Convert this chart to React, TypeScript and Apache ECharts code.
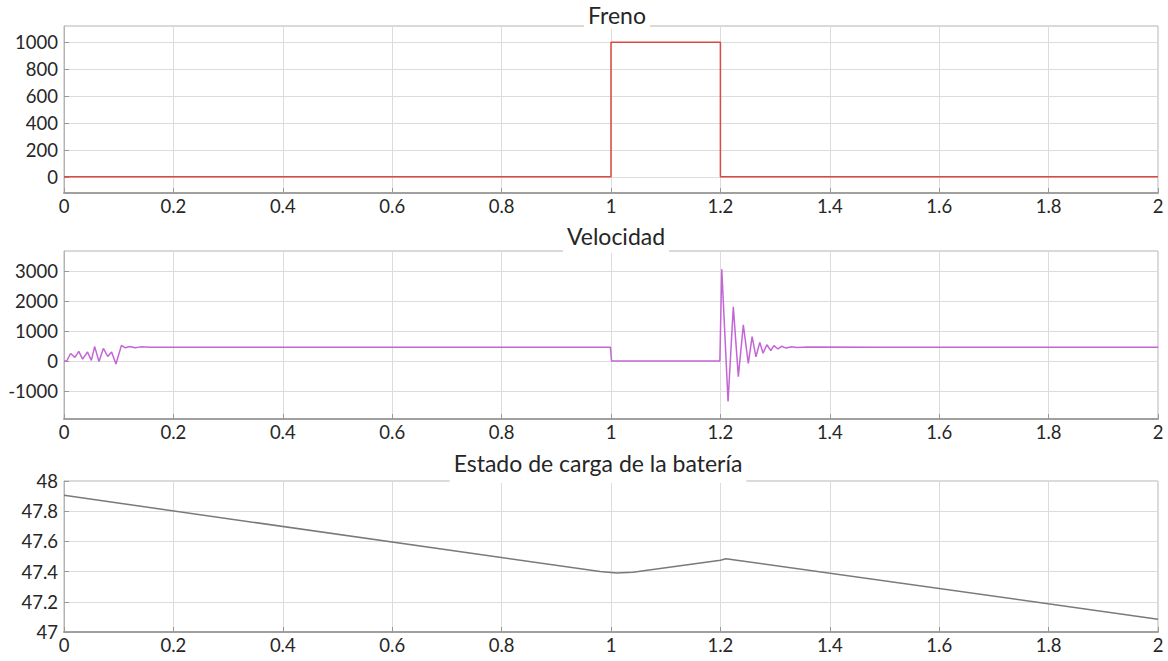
import React, { useEffect, useRef } from 'react';
import * as echarts from 'echarts';

// ---- data ----
const xTicks = [0, 0.2, 0.4, 0.6, 0.8, 1, 1.2, 1.4, 1.6, 1.8, 2];

const titles = ['Freno', 'Velocidad', 'Estado de carga de la batería'];

const frenoT = [0, 1.0, 1.0, 1.2, 1.2, 2];
const frenoV = [0, 0, 1000, 1000, 0, 0];
const frenoTicks = [0, 200, 400, 600, 800, 1000];

const velT = [
  0, 0.005, 0.012, 0.02, 0.027, 0.034, 0.043, 0.05, 0.056, 0.064, 0.072, 0.08, 0.087, 0.095,
  0.105, 0.112, 0.12, 0.13, 0.14, 0.16, 0.2, 0.5, 0.8, 0.999, 1.001, 1.1, 1.199,
  1.2025, 1.214, 1.2236, 1.2328, 1.2419, 1.251, 1.258, 1.265, 1.272, 1.278, 1.285,
  1.292, 1.298, 1.305, 1.312, 1.32, 1.33, 1.34, 1.36, 1.5, 2,
];
const velV = [
  0, 0, 250, 120, 320, 60, 300, 20, 480, -20, 420, 150, 300, -100,
  520, 440, 480, 440, 470, 460, 460, 460, 460, 460, 0, 0, 0,
  3050, -1350, 1800, -520, 1200, -80, 810, 140, 620, 260, 540,
  350, 510, 400, 490, 430, 475, 450, 462, 460, 460,
];
const velTicks = [-1000, 0, 1000, 2000, 3000];

const batT = [0, 0.98, 1.01, 1.04, 1.2, 1.21, 1.22, 2];
const batV = [47.905, 47.4, 47.39, 47.395, 47.475, 47.485, 47.48, 47.085];
const batTicks = [47, 47.2, 47.4, 47.6, 47.8, 48];

const FONT = 'Lato';
const TXT = '#262626';

function zip(a: number[], b: number[]) {
  return a.map((t, i) => [t, b[i]]);
}

export default function App() {
  const ref = useRef<HTMLDivElement>(null);
  useEffect(() => {
    document.body.style.margin = '0';
    const chart = echarts.init(ref.current!, null, { renderer: 'svg' });

    const grids = [
      { left: 64, right: 10, top: 26, height: 167 },
      { left: 64, right: 10, top: 251, height: 168 },
      { left: 64, right: 10, top: 481, height: 151 },
    ];
    const yRanges = [
      { min: -120, max: 1120, ticks: frenoTicks },
      { min: -1930, max: 3660, ticks: velTicks },
      { min: 47, max: 48, ticks: batTicks },
    ];
    const titlePos = [
      { x: 613, top: 2, pad: [1, 4, 3, 4] },
      { x: 612, top: 223, pad: [1, 4, 6, 4] },
      { x: 594, top: 450, pad: [1, 4, 9, 4] },
    ];
    const colors = ['#d94a3f', '#c465d6', '#7a7a7a'];
    const datas = [zip(frenoT, frenoV), zip(velT, velV), zip(batT, batV)];

    chart.setOption({
      animation: false,
      backgroundColor: '#fff',
      title: titles.map((t, i) => ({
        text: t,
        left: titlePos[i].x,
        top: titlePos[i].top,
        textAlign: 'center',
        backgroundColor: '#fff',
        padding: titlePos[i].pad,
        textStyle: { fontFamily: FONT, fontSize: 23, fontWeight: 'normal', color: TXT },
      })),
      grid: grids.map((g) => ({
        ...g,
        show: true,
        borderColor: '#b4b4b4',
        borderWidth: 1,
        backgroundColor: '#fff',
      })),
      xAxis: grids.map((_, i) => ({
        type: 'value',
        gridIndex: i,
        min: 0,
        max: 2,
        interval: 0.2,
        axisLine: { show: true, onZero: false, lineStyle: { color: '#a0a0a0', width: 2 } },
        axisTick: { show: true, inside: true, length: 5, lineStyle: { color: '#999' } },
        axisLabel: {
          fontFamily: FONT,
          fontSize: 18.5,
          color: TXT,
          margin: 3,
          customValues: xTicks,
          formatter: (v: number) => String(Math.round(v * 10) / 10),
        },
        splitLine: { show: true, lineStyle: { color: '#dcdcdc', width: 1 } },
      })),
      yAxis: yRanges.map((r, i) => ({
        type: 'value',
        gridIndex: i,
        min: r.min,
        max: r.max,
        axisLine: { show: true, lineStyle: { color: '#b4b4b4', width: 1 } },
        axisTick: {
          show: true,
          inside: true,
          length: 5,
          customValues: r.ticks,
          lineStyle: { color: '#999' },
        },
        axisLabel: {
          fontFamily: FONT,
          fontSize: 18.5,
          color: TXT,
          margin: 6,
          customValues: r.ticks,
          formatter: (v: number) => String(Math.round(v * 10) / 10),
        },
        splitLine: { show: true, lineStyle: { color: '#dcdcdc', width: 1 } },
      })),
      series: datas.map((d, i) => ({
        type: 'line',
        xAxisIndex: i,
        yAxisIndex: i,
        data: d,
        showSymbol: false,
        symbol: 'none',
        lineStyle: { color: colors[i], width: 1.5 },
        z: 3,
      })),
    });
    return () => chart.dispose();
  }, []);
  return <div ref={ref} style={{ width: 1168, height: 661, background: '#fff' }} />;
}
